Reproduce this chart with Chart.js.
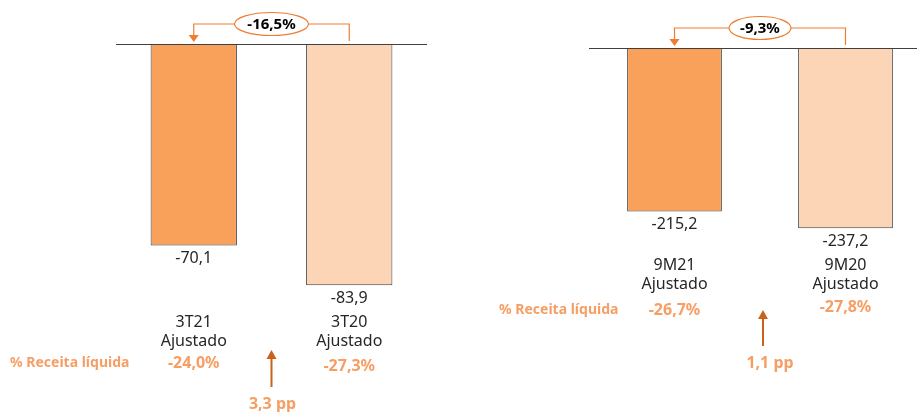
<!DOCTYPE html>
<html>
<head>
<meta charset="utf-8">
<script src="https://cdn.jsdelivr.net/npm/chart.js@4/dist/chart.umd.min.js"></script>
<style>
  html, body { margin: 0; padding: 0; background: #fff; overflow: hidden; width: 917px; height: 412px; }
  .panel { position: absolute; top: 0; height: 412px; }
  #left { left: 0; width: 458px; }
  #right { left: 459px; width: 472px; }
</style>
</head>
<body>
<div class="panel" id="left"><canvas id="leftChart"></canvas></div>
<div class="panel" id="right"><canvas id="rightChart"></canvas></div>
<script>
// Quarter (3T) data
const quarterLabels = [['3T21', 'Ajustado'], ['3T20', 'Ajustado']];
const quarterValues = [-70.1, -83.9];
const quarterShare = ['-24,0%', '-27,3%'];
const quarterChange = '-16,5%';
const quarterPp = '3,3 pp';

// Nine months (9M) data
const ytdLabels = [['9M21', 'Ajustado'], ['9M20', 'Ajustado']];
const ytdValues = [-215.2, -237.2];
const ytdShare = ['-26,7%', '-27,8%'];
const ytdChange = '-9,3%';
const ytdPp = '1,1 pp';

const shareTitle = '% Receita líquida';

const barColors = ['#F9A05A', '#FBD5B5'];
const FONT = '"Noto Sans", "DejaVu Sans", sans-serif';

function fmt(v) {
    return v.toFixed(1).replace('.', ',');
}

// draws everything around the bars: baseline, labels, annotations
function makeDecor(cfg) {
    return {
        id: 'decor',
        afterDatasetsDraw(chart) {
            const ctx = chart.ctx;
            const x = chart.scales.x;
            const y = chart.scales.y;
            const area = chart.chartArea;
            const zeroY = y.getPixelForValue(0);
            const meta = chart.getDatasetMeta(0);
            ctx.save();

            // baseline
            ctx.strokeStyle = '#404040';
            ctx.lineWidth = 1;
            ctx.beginPath();
            ctx.moveTo(area.left, zeroY + 0.5);
            ctx.lineTo(area.right, zeroY + 0.5);
            ctx.stroke();

            ctx.textAlign = 'center';
            ctx.textBaseline = 'middle';
            meta.data.forEach((bar, i) => {
                const cx = x.getPixelForValue(i);
                // value below bar
                ctx.fillStyle = '#262626';
                ctx.font = '16px ' + FONT;
                ctx.fillText(fmt(cfg.values[i]), cx, bar.y + 13);
                // category
                ctx.fillText(cfg.labels[i][0], cx, cfg.catY);
                ctx.fillText(cfg.labels[i][1], cx, cfg.catY + 19);
                // share of revenue
                ctx.fillStyle = '#F79E64';
                ctx.font = 'bold 16px ' + FONT;
                ctx.fillText(cfg.share[i], cx, cfg.shareY[i]);
            });

            // row title
            ctx.font = 'bold 14px ' + FONT;
            ctx.textAlign = 'left';
            ctx.fillText(shareTitle, cfg.titleX - chart.canvas.getBoundingClientRect().left, cfg.shareY[0]);

            // pp arrow
            const x0 = x.getPixelForValue(0), x1 = x.getPixelForValue(1);
            const mid = (x0 + x1) / 2 + cfg.arrowShift;
            ctx.strokeStyle = '#C8621C';
            ctx.fillStyle = '#C8621C';
            ctx.lineWidth = 2;
            ctx.beginPath();
            ctx.moveTo(mid, cfg.arrowBottom);
            ctx.lineTo(mid, cfg.arrowTop + 8);
            ctx.stroke();
            ctx.beginPath();
            ctx.moveTo(mid - 5, cfg.arrowTop + 9);
            ctx.lineTo(mid + 5, cfg.arrowTop + 9);
            ctx.lineTo(mid, cfg.arrowTop);
            ctx.closePath();
            ctx.fill();
            ctx.fillStyle = '#F79E64';
            ctx.font = 'bold 16px ' + FONT;
            ctx.textAlign = 'center';
            ctx.fillText(cfg.pp, mid + cfg.ppShift, cfg.arrowBottom + 17);

            // change annotation on top
            const lx = x0, rx = x1;
            const ly = zeroY - 20;
            ctx.strokeStyle = '#ED7D31';
            ctx.lineWidth = 1.2;
            ctx.beginPath();
            ctx.moveTo(lx, zeroY - 8);
            ctx.lineTo(lx, ly);
            ctx.lineTo(rx, ly);
            ctx.lineTo(rx, zeroY - 3);
            ctx.stroke();
            ctx.fillStyle = '#ED7D31';
            ctx.beginPath();
            ctx.moveTo(lx - 5, zeroY - 9);
            ctx.lineTo(lx + 5, zeroY - 9);
            ctx.lineTo(lx, zeroY - 2);
            ctx.closePath();
            ctx.fill();
            const ex = (lx + rx) / 2 + cfg.ellShift;
            ctx.beginPath();
            ctx.ellipse(ex, ly, cfg.ellW / 2, 11.5, 0, 0, Math.PI * 2);
            ctx.fillStyle = '#fff';
            ctx.fill();
            ctx.stroke();
            ctx.fillStyle = '#000';
            ctx.font = 'bold 15px ' + FONT;
            ctx.fillText(cfg.change, ex, ly + 1);

            ctx.restore();
        }
    };
}

function buildChart(id, cfg) {
    return new Chart(document.getElementById(id), {
        type: 'bar',
        data: {
            labels: cfg.labels.map(l => l.join(' ')),
            datasets: [{
                data: cfg.values,
                backgroundColor: barColors,
                borderColor: '#3F3F3F',
                borderWidth: 1,
                borderSkipped: 'start',
                categoryPercentage: 1,
                barPercentage: cfg.barPct
            }]
        },
        options: {
            responsive: true,
            maintainAspectRatio: false,
            animation: false,
            layout: { padding: cfg.padding },
            plugins: { legend: { display: false }, tooltip: { enabled: false } },
            scales: {
                x: { display: false },
                y: { display: false, min: cfg.min, max: 0 }
            }
        },
        plugins: [makeDecor(cfg)]
    });
}

buildChart('leftChart', {
    labels: quarterLabels, values: quarterValues, share: quarterShare,
    change: quarterChange, pp: quarterPp,
    min: -120, barPct: 0.555,
    padding: { top: 44, bottom: 23, left: 116, right: 31 },
    catY: 322, shareY: [363, 366], titleX: 10,
    arrowTop: 350, arrowBottom: 387, arrowShift: 0, ppShift: 1,
    ellW: 74, ellShift: 0
});

buildChart('rightChart', {
    labels: ytdLabels, values: ytdValues, share: ytdShare,
    change: ytdChange, pp: ytdPp,
    min: -450, barPct: 0.554,
    padding: { top: 48, bottom: 22, left: 130, right: 0 },
    catY: 265, shareY: [310, 307], titleX: 499,
    arrowTop: 310, arrowBottom: 346, arrowShift: 3, ppShift: 7,
    ellW: 62, ellShift: 0
});
</script>
</body>
</html>
